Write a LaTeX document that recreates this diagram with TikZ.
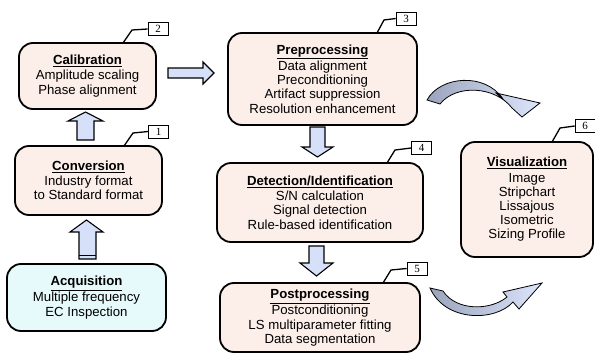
\documentclass[tikz,border=0pt]{standalone}
\usepackage{fontspec}
\setmainfont{Liberation Sans}
\newfontfamily\labfont{Liberation Serif}
\definecolor{stagefill}{HTML}{FCEEE9}
\definecolor{acqfill}{HTML}{E6FAFB}
\definecolor{arrowfill}{HTML}{D6E0F9}
\definecolor{bentdark}{HTML}{9AA4BC}
\definecolor{bentlight}{HTML}{DCE5FB}
\tikzset{
  stage/.style={draw=black, line width=1.8pt, rounded corners=14pt, fill=stagefill,
    align=center, inner sep=0pt, font=\fontsize{13.2}{14.2}\selectfont},
  tag/.style={draw=black, line width=0.6pt, fill=white, minimum width=20pt,
    minimum height=13pt, inner sep=0pt, font=\labfont\fontsize{11}{11}\selectfont},
  tick/.style={line width=1.3pt},
  blockarrow/.style={draw=black, line width=1.1pt, fill=arrowfill, line join=miter},
  bentarrow/.style={draw=black, line width=0.8pt, left color=bentdark, right color=bentlight},
}
\begin{document}
\begin{tikzpicture}[x=1pt,y=-1pt]
\useasboundingbox (0,0) rectangle (595,353);

% stages
\node[stage, minimum width=137pt, minimum height=66pt] (cal) at (87.5,76)
  {\underline{\textbf{Calibration}}\\[1pt]Amplitude scaling\\Phase alignment};
\node[stage, minimum width=147pt, minimum height=69pt] (conv) at (88.5,180.5)
  {\underline{\textbf{Conversion}}\\[1pt]Industry format\\to Standard format};
\node[stage, fill=acqfill, minimum width=159pt, minimum height=67pt] (acq) at (86.5,297.5)
  {\underline{\textbf{Acquisition}}\\[1pt]Multiple frequency\\EC Inspection};
\node[stage, minimum width=189pt, minimum height=92pt] (pre) at (322.5,79)
  {\underline{\textbf{Preprocessing}}\\[1pt]Data alignment\\Preconditioning\\Artifact suppression\\Resolution enhancement};
\node[stage, minimum width=206pt, minimum height=79pt] (det) at (320,202.5)
  {\underline{\textbf{Detection/Identification}}\\[1pt]S/N calculation\\Signal detection\\Rule-based identification};
\node[stage, minimum width=200pt, minimum height=69pt] (post) at (320,317.5)
  {\underline{\textbf{Postprocessing}}\\[1pt]Postconditioning\\LS multiparameter fitting\\Data segmentation};
\node[stage, minimum width=132pt, minimum height=115pt] (vis) at (527,199.5)
  {\underline{\textbf{Visualization}}\\[1pt]Image\\Stripchart\\Lissajous\\Isometric\\Sizing Profile};

% number tags
\node[tag] (t1) at (158.5,131.5) {1};
\node[tag] (t2) at (158,29) {2};
\node[tag] (t3) at (406,18.5) {3};
\node[tag] (t4) at (421.5,148) {4};
\node[tag] (t5) at (417,268.5) {5};
\node[tag] (t6) at (585,126) {6};

\draw[tick] (124,146) -- (133,133) -- (t1.west);
\draw[tick] (123,43) -- (132,30) -- (t2.west);
\draw[tick] (377,33) -- (384,20) -- (t3.west);
\draw[tick] (387,163) -- (395,150) -- (t4.west);
\draw[tick] (383,283) -- (391,270) -- (t5.west);
\draw[tick] (552,142) -- (560,128) -- (t6.west);

% block arrows
\draw[blockarrow] (77,140) -- (77,121) -- (68,121) -- (85.5,112) -- (103,121) -- (94,121) -- (94,140) -- cycle;
\draw[blockarrow] (79,259) -- (79,232) -- (70,232) -- (86.5,220) -- (103,232) -- (96,232) -- (96,259) -- cycle;
\draw[line width=0.8pt] (79,255) -- (96,255);
\draw[blockarrow] (168,68) -- (203,68) -- (203,62) -- (214,73) -- (203,84) -- (203,78) -- (168,78) -- cycle;
\draw[blockarrow] (310,127) -- (310,147) -- (302,147) -- (317.5,157) -- (333,147) -- (325,147) -- (325,127) -- cycle;
\draw[blockarrow] (309,246) -- (309,263) -- (300,263) -- (316.5,276) -- (333,263) -- (324,263) -- (324,246) -- cycle;

% bent arrows
\draw[bentarrow] (427,100) .. controls (440,76) and (485,72) .. (503,99)
  -- (496,93) -- (540,103) -- (522,117) -- (512,108)
  .. controls (495,86) and (456,84) .. (440,104) -- cycle;
\draw[bentarrow] (430,288) .. controls (445,322) and (495,322) .. (513,302)
  -- (519,309) -- (542,283) -- (503,292) -- (507,297)
  .. controls (490,311) and (456,311) .. (443,291) -- cycle;
\end{tikzpicture}
\end{document}
